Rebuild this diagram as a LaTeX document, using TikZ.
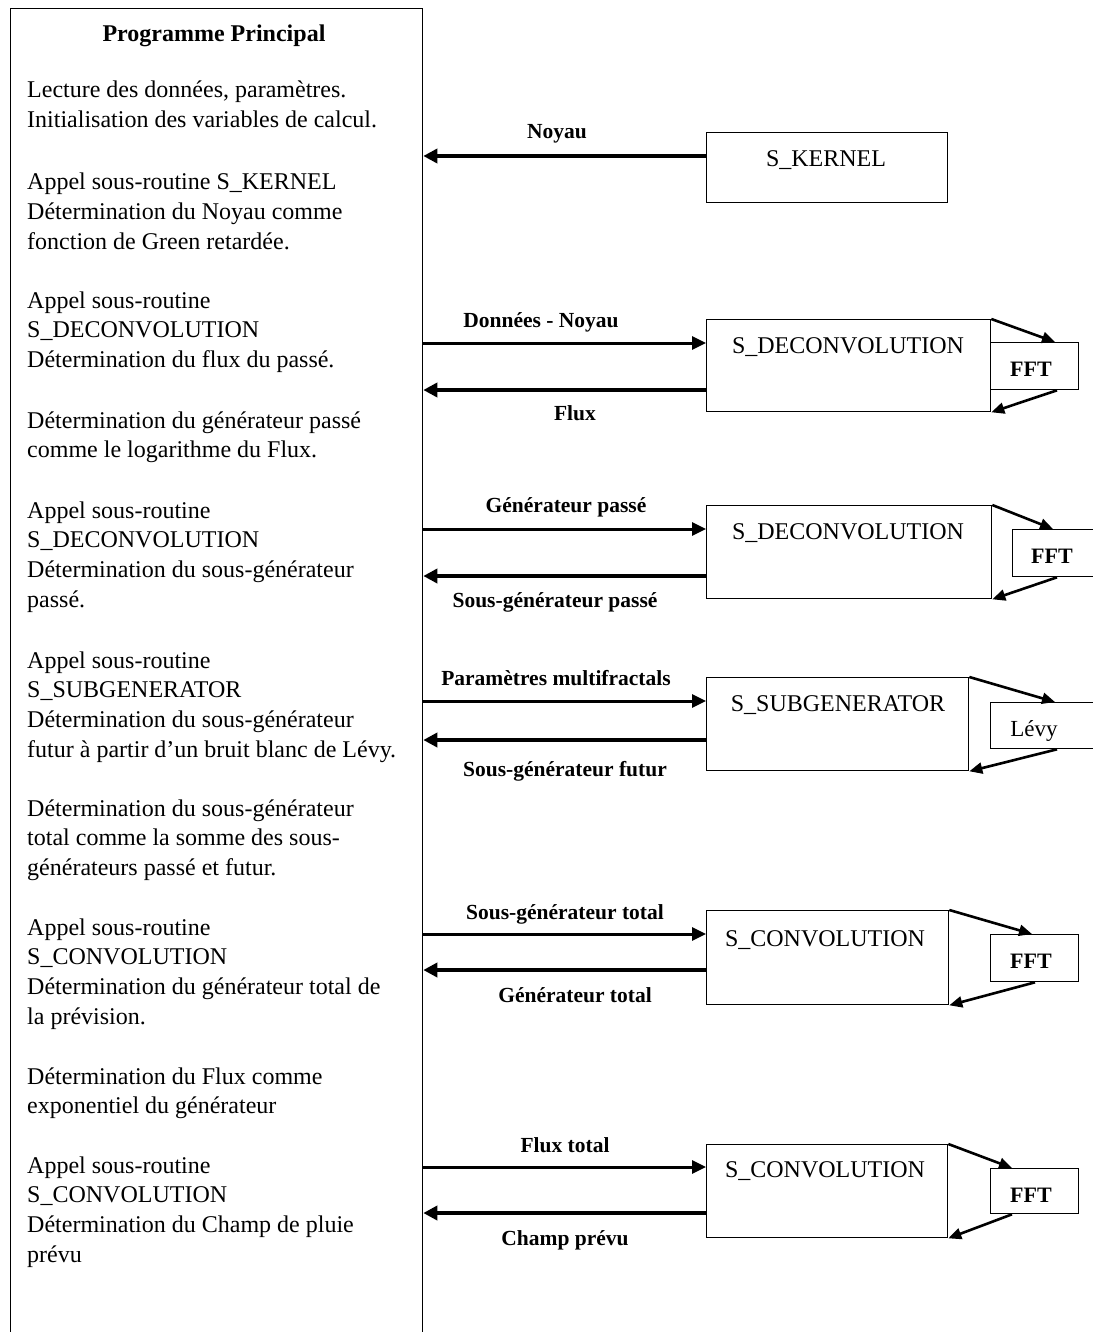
\documentclass[tikz,border=0pt]{standalone}
\usepackage{fontspec}
\setmainfont{Liberation Serif}
\usetikzlibrary{arrows.meta,calc}
\begin{document}
\begin{tikzpicture}[x=1pt,y=-1pt,
  box/.style={draw, line width=1.3pt, inner sep=0pt, anchor=north west},
  body/.style={anchor=base west, align=left, inner sep=0pt, font=\fontsize{24}{29.7}\selectfont},
  boxtxt/.style={anchor=base, inner sep=0pt, font=\fontsize{24}{28}\selectfont},
  fftxt/.style={anchor=base, inner sep=0pt, font=\fontsize{22}{26}\selectfont\bfseries},
  lbl/.style={anchor=base, inner sep=0pt, font=\fontsize{21.5}{24}\selectfont\bfseries},
  rarr/.style={line width=3pt, -{Triangle[length=14pt,width=13pt]}},
  larr/.style={line width=4.5pt, -{Triangle[length=14pt,width=14pt]}},
  farr/.style={line width=2.6pt, -{Triangle[length=13pt,width=11pt]}},
]
\useasboundingbox[fill=white] (0,0) rectangle (1092,1332);

% main programme box (bottom runs off the page)
\node[box, minimum width=412pt, minimum height=1400pt] (main) at (10,8) {};
\node[anchor=base, inner sep=0pt, font=\fontsize{24}{28}\selectfont\bfseries] (title) at (214,42) {Programme Principal};

% body paragraphs: anchored at the baseline of their last line
\node[body] (p1) at (27,127.7) {Lecture des données, paramètres.\\Initialisation des variables de calcul.};
\node[body] (p2) at (27,249.4) {Appel sous-routine S\_KERNEL\\Détermination du Noyau comme\\fonction de Green retardée.};
\node[body] (p3) at (27,367.4) {Appel sous-routine\\S\_DECONVOLUTION\\Détermination du flux du passé.};
\node[body] (p4) at (27,457.7) {Détermination du générateur passé\\comme le logarithme du Flux.};
\node[body] (p5) at (27,607.1) {Appel sous-routine\\S\_DECONVOLUTION\\Détermination du sous-générateur\\passé.};
\node[body] (p6) at (27,757.1) {Appel sous-routine\\S\_SUBGENERATOR\\Détermination du sous-générateur\\futur à partir d’un bruit blanc de Lévy.};
\node[body] (p7) at (27,875.4) {Détermination du sous-générateur\\total comme la somme des sous-\\générateurs passé et futur.};
\node[body] (p8) at (27,1024.1) {Appel sous-routine\\S\_CONVOLUTION\\Détermination du générateur total de\\la prévision.};
\node[body] (p9) at (27,1113.7) {Détermination du Flux comme\\exponentiel du générateur};
\node[body] (p10) at (27,1262.1) {Appel sous-routine\\S\_CONVOLUTION\\Détermination du Champ de pluie\\prévu};

% subroutine boxes
\node[box, minimum width=241pt, minimum height=70pt] (kernel) at (706,132) {};
\node[boxtxt] (kerneltxt) at (826,167) {S\_KERNEL};

\node[box, minimum width=284pt, minimum height=92pt] (dec1) at (706,319) {};
\node[boxtxt] (dec1txt) at (848,353) {S\_DECONVOLUTION};
\node[box, minimum width=88pt, minimum height=47pt] (fft1) at (990,342) {};
\node[fftxt] (fft1txt) at (1031,376) {FFT};

\node[box, minimum width=285pt, minimum height=93pt] (dec2) at (706,505) {};
\node[boxtxt] (dec2txt) at (848,539) {S\_DECONVOLUTION};
\node[box, minimum width=100pt, minimum height=47pt] (fft2) at (1012,529) {};
\node[fftxt] (fft2txt) at (1052,563) {FFT};

\node[box, minimum width=262pt, minimum height=93pt] (sub) at (706,677) {};
\node[boxtxt] (subtxt) at (838,711) {S\_SUBGENERATOR};
\node[box, minimum width=110pt, minimum height=46pt] (levy) at (990,702) {};
\node[anchor=base, inner sep=0pt, font=\fontsize{23}{26}\selectfont] (levytxt) at (1034,736) {Lévy};

\node[box, minimum width=242pt, minimum height=94pt] (conv1) at (706,910) {};
\node[boxtxt] (conv1txt) at (825,946) {S\_CONVOLUTION};
\node[box, minimum width=88pt, minimum height=47pt] (fft3) at (990,934) {};
\node[fftxt] (fft3txt) at (1031,968) {FFT};

\node[box, minimum width=241pt, minimum height=93pt] (conv2) at (706,1144) {};
\node[boxtxt] (conv2txt) at (825,1177) {S\_CONVOLUTION};
\node[box, minimum width=88pt, minimum height=45pt] (fft4) at (990,1168) {};
\node[fftxt] (fft4txt) at (1031,1202) {FFT};

% arrows between main programme and subroutines
\draw[larr] (kernel.west |- 0,156) -- (main.east |- 0,156);
\node[lbl] (l1) at (557,139) {Noyau};

\draw[rarr] (main.east |- 0,343) -- (dec1.west |- 0,343);
\draw[larr] (dec1.west |- 0,390) -- (main.east |- 0,390);
\node[lbl] (l2) at (541,327) {Données - Noyau};
\node[lbl] (l3) at (575,420) {Flux};

\draw[rarr] (main.east |- 0,529) -- (dec2.west |- 0,529);
\draw[larr] (dec2.west |- 0,576) -- (main.east |- 0,576);
\node[lbl] (l4) at (566,512) {Générateur passé};
\node[lbl] (l5) at (555,607) {Sous-générateur passé};

\draw[rarr] (main.east |- 0,701) -- (sub.west |- 0,701);
\draw[larr] (sub.west |- 0,740) -- (main.east |- 0,740);
\node[lbl] (l6) at (556,685) {Paramètres multifractals};
\node[lbl] (l7) at (565,776) {Sous-générateur futur};

\draw[rarr] (main.east |- 0,934) -- (conv1.west |- 0,934);
\draw[larr] (conv1.west |- 0,970) -- (main.east |- 0,970);
\node[lbl] (l8) at (565,919) {Sous-générateur total};
\node[lbl] (l9) at (575,1002) {Générateur total};

\draw[rarr] (main.east |- 0,1167) -- (conv2.west |- 0,1167);
\draw[larr] (conv2.west |- 0,1213) -- (main.east |- 0,1213);
\node[lbl] (l10) at (565,1152) {Flux total};
\node[lbl] (l11) at (565,1245) {Champ prévu};

% FFT / Lévy arrows
\draw[farr] (dec1.north east) -- ($(fft1.north west)+(65,0)$);
\draw[farr] ($(fft1.south west)+(67,0)$) -- (dec1.south east);
\draw[farr] (dec2.north east) -- ($(fft2.north west)+(41,0)$);
\draw[farr] ($(fft2.south west)+(45,0)$) -- (dec2.south east);
\draw[farr] (sub.north east) -- ($(levy.north west)+(65,0)$);
\draw[farr] ($(levy.south west)+(67,0)$) -- (sub.south east);
\draw[farr] (conv1.north east) -- ($(fft3.north west)+(42,0)$);
\draw[farr] ($(fft3.south west)+(45,0)$) -- (conv1.south east);
\draw[farr] (conv2.north east) -- ($(fft4.north west)+(22,0)$);
\draw[farr] ($(fft4.south west)+(22,0)$) -- (conv2.south east);
\end{tikzpicture}
\end{document}
